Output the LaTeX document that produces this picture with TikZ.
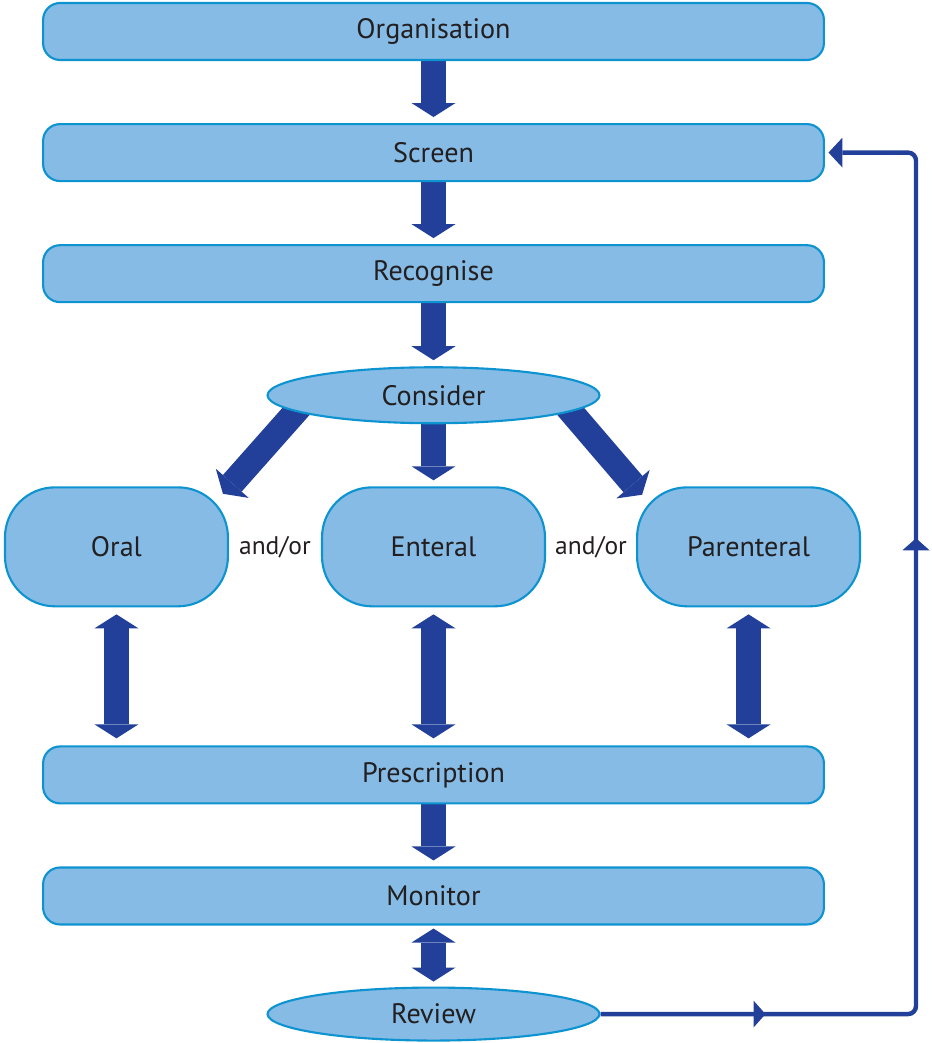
\documentclass[tikz,border=0pt]{standalone}
\usepackage{fontspec}
\setmainfont{PT Sans}
\usepackage{tikz}
\usetikzlibrary{arrows.meta,positioning,shapes.geometric,calc,
                backgrounds,decorations.markings}
\definecolor{boxfill}{HTML}{85BBE5}
\definecolor{boxline}{HTML}{0E93D1}
\definecolor{arrowblue}{HTML}{22409A}
\definecolor{inktext}{HTML}{231F20}

\begin{document}
\begin{tikzpicture}[
    x=0.02cm, y=-0.02cm,
    wide/.style={rectangle, rounded corners=0.34cm, draw=boxline,
                 fill=boxfill, line width=1.2pt,
                 minimum width=15.62cm, minimum height=1.14cm,
                 text=inktext, font=\fontsize{16}{19}\selectfont},
    route/.style={wide, rounded corners=1cm,
                  minimum width=4.46cm, minimum height=2.38cm},
    oval/.style={ellipse, draw=boxline, fill=boxfill, line width=1.2pt,
                 inner sep=0pt, minimum width=6.64cm, minimum height=1.12cm,
                 text=inktext, font=\fontsize{16}{19}\selectfont},
    andor/.style={text=inktext, font=\fontsize{14.5}{17}\selectfont},
    blk/.style={draw=arrowblue, line width=0.5cm,
                -{Triangle[width=0.88cm,length=0.28cm,line width=0pt]},
                shorten >=0.12cm},
    dblk/.style={blk,
                 {Triangle[width=0.88cm,length=0.28cm,line width=0pt]}-{Triangle[width=0.88cm,length=0.28cm,line width=0pt]},
                 shorten <=0.14cm, shorten >=0.14cm},
    backline/.style={draw=arrowblue, line width=2.5pt, rounded corners=0.16cm,
                     -{Triangle[width=0.6cm,length=0.28cm,line width=0pt]},
                     shorten >=0.07cm,
                     decoration={markings,
                       mark=at position 3.3cm with {\arrow{Triangle[width=0.54cm,length=0.24cm,line width=0pt]}},
                       mark=at position 15.76cm with {\arrow{Triangle[width=0.54cm,length=0.24cm,line width=0pt]}}},
                     postaction={decorate}}
  ]
  \useasboundingbox (0,0) rectangle (931,1043);

  % main column
  \node[wide] (org) at (433.5,31.5) {Organisation};
  \node[wide, below=1.24cm of org] (screen) {Screen};
  \node[wide, below=1.24cm of screen] (recog) {Recognise};
  \node[oval, below=1.26cm of recog] (consider) {Consider};

  % the three routes
  \node[route, below=1.24cm of consider] (enteral) {Enteral};
  \node[route, left=1.84cm of enteral] (oral) {Oral};
  \node[route, right=1.8cm of enteral] (parent) {Parenteral};
  \node[andor] (ao1) at ($(oral.east)!0.5!(enteral.west)$) {and/or};
  \node[andor] (ao2) at ($(enteral.east)!0.5!(parent.west)$) {and/or};

  \node[wide, below=2.76cm of enteral] (presc) {Prescription};
  \node[wide, below=1.24cm of presc] (monitor) {Monitor};
  \node[oval, minimum height=1.06cm, below=1.22cm of monitor] (review) {Review};

  \begin{scope}[on background layer]
    \draw[blk] (org) -- (screen);
    \draw[blk] (screen) -- (recog);
    \draw[blk] (recog) -- (consider);
    \draw[blk] (consider.south) -- (enteral.north);
    \draw[blk] ([xshift=-0.2cm,yshift=0.3cm]consider.south west)
      -- ([xshift=-0.2cm,yshift=-0.24cm]oral.north east);
    \draw[blk] ([xshift=0.2cm,yshift=0.3cm]consider.south east)
      -- ([xshift=0.2cm,yshift=-0.26cm]parent.north west);
    \draw[dblk] (oral.south) -- (oral.south |- presc.north);
    \draw[dblk] (enteral.south) -- (enteral.south |- presc.north);
    \draw[dblk] (parent.south) -- (parent.south |- presc.north);
    \draw[blk] (presc) -- (monitor);
    \draw[dblk, shorten <=0.06cm, shorten >=0.1cm] (monitor) -- (review);
  \end{scope}

  % feedback loop back to screening
  \coordinate (fb) at (916,0);
  \draw[backline] (review.east) -- (review.east -| fb) -- (fb |- screen.east)
    -- (screen.east);
\end{tikzpicture}
\end{document}
